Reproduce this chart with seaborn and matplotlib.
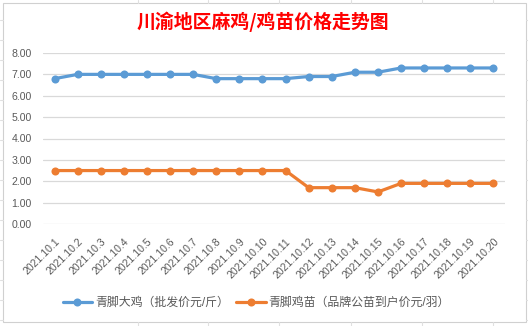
import matplotlib
matplotlib.use('Agg')
import matplotlib.pyplot as plt
import matplotlib.transforms as mtransforms
from matplotlib.patches import Rectangle
from matplotlib.lines import Line2D
import seaborn as sns
import pandas as pd

# ---------------- data ----------------
dates = ['2021.10.1', '2021.10.2', '2021.10.3', '2021.10.4', '2021.10.5',
         '2021.10.6', '2021.10.7', '2021.10.8', '2021.10.9', '2021.10.10',
         '2021.10.11', '2021.10.12', '2021.10.13', '2021.10.14', '2021.10.15',
         '2021.10.16', '2021.10.17', '2021.10.18', '2021.10.19', '2021.10.20']
big_chicken = [6.8, 7.0, 7.0, 7.0, 7.0, 7.0, 7.0, 6.8, 6.8, 6.8,
               6.8, 6.9, 6.9, 7.1, 7.1, 7.3, 7.3, 7.3, 7.3, 7.3]
chick = [2.5, 2.5, 2.5, 2.5, 2.5, 2.5, 2.5, 2.5, 2.5, 2.5,
         2.5, 1.7, 1.7, 1.7, 1.5, 1.9, 1.9, 1.9, 1.9, 1.9]
series_names = ['青脚大鸡（批发价元/斤）', '青脚鸡苗（品牌公苗到户价元/羽）']
colors = ['#5B9BD5', '#ED7D31']
yticks = [0, 1, 2, 3, 4, 5, 6, 7, 8]
title = '川渝地区麻鸡/鸡苗价格走势图'

# ---------------- style ----------------
sns.set_theme(style='white')
plt.rcParams['font.family'] = ['Liberation Sans', 'Noto Sans CJK SC', 'DejaVu Sans']
text_color = '#595959'
grid_color = '#D9D9D9'

n = len(dates)
df = pd.DataFrame({
    'idx': list(range(n)) * 2,
    'value': big_chicken + chick,
    'series': [series_names[0]] * n + [series_names[1]] * n,
})

fig = plt.figure(figsize=(5.28, 3.26), dpi=100)
fig.patch.set_facecolor('white')

W, H = 528, 326
# Excel-like chart border
fig.patches.append(Rectangle((3 / W, 1 - 322 / H), (526 - 3) / W, (322 - 3) / H,
                             transform=fig.transFigure, fill=False,
                             edgecolor='#D0D0D0', linewidth=0.8, zorder=0))
# faint worksheet cell lines outside the chart
for x in [138, 208, 279, 351, 422, 493]:
    for (y0, y1) in [(0, 3), (322, 326)]:
        fig.lines.append(Line2D([x / W, x / W], [1 - y0 / H, 1 - y1 / H],
                                transform=fig.transFigure, color='#E0E0E0', lw=0.8))
for y in range(20, 326, 20):
    for (x0, x1) in [(0, 3), (526, 528)]:
        fig.lines.append(Line2D([x0 / W, x1 / W], [1 - y / H, 1 - y / H],
                                transform=fig.transFigure, color='#E0E0E0', lw=0.8))

ax = fig.add_axes([43 / W, 1 - 224 / H, (505 - 43) / W, (224 - 53) / H])
ax.set_facecolor('white')

sns.lineplot(data=df, x='idx', y='value', hue='series', palette=colors,
             hue_order=series_names, marker='o', markersize=5.8,
             markeredgewidth=0, linewidth=2.3, ax=ax, legend=False, zorder=3)

ax.set_xlim(-0.5, n - 0.5)
ax.set_ylim(0, 8)
ax.set_yticks(yticks)
ax.set_yticklabels([f'{v:.2f}' for v in yticks], fontsize=7.6, color=text_color)
ax.set_xticks(range(n))
ax.set_xticklabels(dates, fontsize=7.6, color=text_color, rotation=45,
                   ha='right', va='top', rotation_mode='anchor')
offset = mtransforms.ScaledTranslation(4 / 100, 0, fig.dpi_scale_trans)
for lab in ax.get_xticklabels():
    lab.set_transform(lab.get_transform() + offset)
ax.tick_params(axis='both', length=0)
ax.tick_params(axis='x', pad=9)
ax.tick_params(axis='y', pad=8)
ax.yaxis.grid(True, color=grid_color, linewidth=0.9)
ax.xaxis.grid(False)
for s in ax.spines.values():
    s.set_visible(False)
ax.set_xlabel('')
ax.set_ylabel('')

fig.text(0.497, 1 - 22 / H, title, ha='center', va='center', color='red',
         fontsize=13.6, fontweight='bold', family=['Noto Sans CJK SC', 'DejaVu Sans'])

handles = [Line2D([], [], color=c, lw=2.3, marker='o', markersize=5.8,
                  markeredgewidth=0) for c in colors]
leg = fig.legend(handles, series_names, loc='center', bbox_to_anchor=(256 / W, 1 - 303 / H),
                 ncol=2, frameon=False, fontsize=8.6, handlelength=2.5,
                 handletextpad=0.2, columnspacing=0.6, borderpad=0)
for t in leg.get_texts():
    t.set_color(text_color)

fig.savefig('out.png', dpi=100, facecolor='white')
